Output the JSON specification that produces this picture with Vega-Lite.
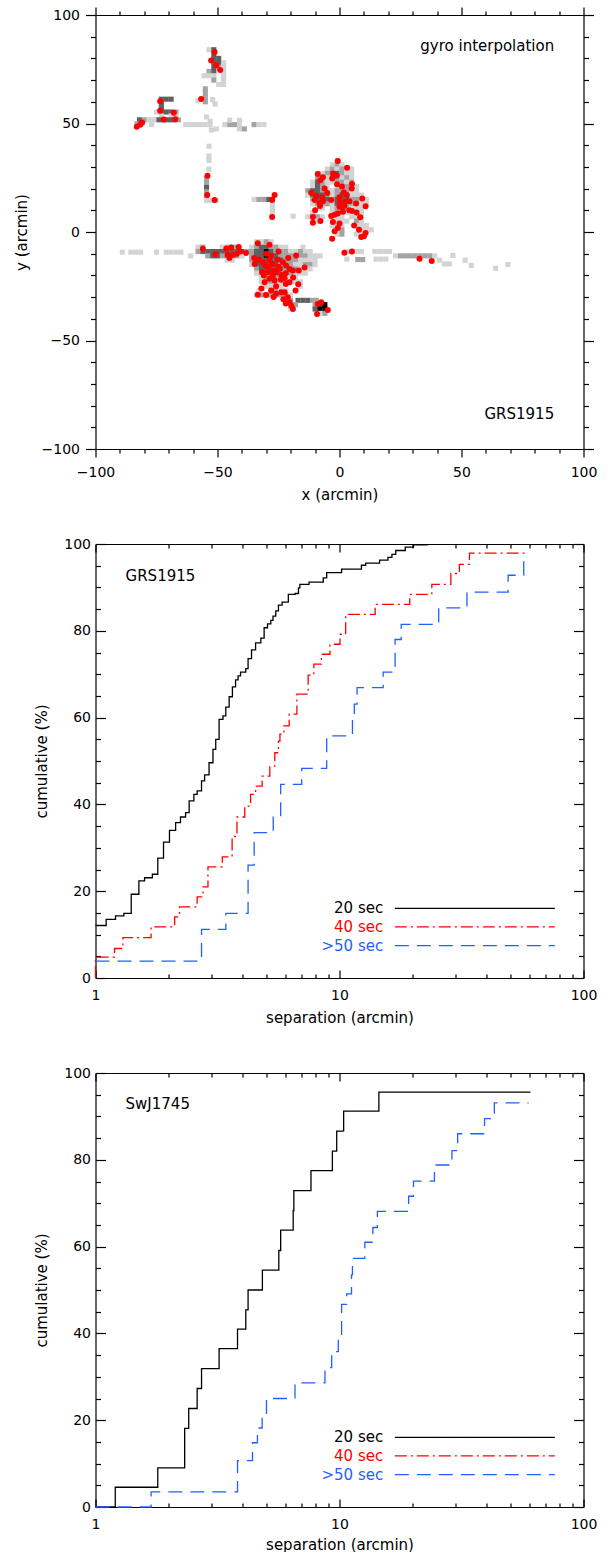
{
  "$schema": "https://vega.github.io/schema/vega-lite/v6.json",
  "background": "white",
  "padding": {"left": 14.5, "top": 6, "right": 5, "bottom": 0},
  "bounds": "flush",
  "spacing": 95,
  "resolve": {"scale": {"color": "independent", "strokeDash": "independent"}},
  "datasets": {
    "cells": [
      {"x":-53.5,"y":84,"l":1},{"x":-51.5,"y":84,"l":3},{"x":-51.5,"y":82,"l":3},{"x":-51.5,"y":80,"l":3},{"x":-49.5,"y":80,"l":3},{"x":-51.5,"y":78,"l":3},{"x":-49.5,"y":78,"l":3},{"x":-47.5,"y":78,"l":1},{"x":-51.5,"y":76,"l":3},{"x":-49.5,"y":76,"l":2},{"x":-47.5,"y":76,"l":1},{"x":-53.5,"y":74,"l":2},{"x":-51.5,"y":74,"l":3},{"x":-47.5,"y":74,"l":1},{"x":-55.5,"y":72,"l":1},{"x":-53.5,"y":72,"l":1},{"x":-51.5,"y":72,"l":1},{"x":-47.5,"y":72,"l":1},{"x":-51.5,"y":70,"l":2},{"x":-47.5,"y":70,"l":1},{"x":-47.5,"y":68,"l":1},{"x":-49.5,"y":68,"l":1},
      {"x":-55,"y":66,"l":2},{"x":-55,"y":64,"l":2},{"x":-55,"y":62,"l":2},{"x":-55,"y":60,"l":2},{"x":-58,"y":60.5,"l":1},{"x":-52,"y":61,"l":1},{"x":-51,"y":59,"l":1},{"x":-54.5,"y":53,"l":1},{"x":-53,"y":51,"l":1},
      {"x":-63,"y":49.5,"l":1},{"x":-61,"y":49.5,"l":1},{"x":-59,"y":49.5,"l":1},{"x":-57,"y":49.5,"l":1},{"x":-55,"y":49.5,"l":1},{"x":-53,"y":49.5,"l":1},{"x":-50.5,"y":47.5,"l":1},
      {"x":-47,"y":49.5,"l":1},{"x":-45,"y":49.5,"l":2},{"x":-43,"y":49.5,"l":2},{"x":-41,"y":49.5,"l":1},{"x":-45,"y":51.5,"l":1},{"x":-41,"y":51.5,"l":1},{"x":-41,"y":47.5,"l":1},{"x":-39,"y":47.5,"l":2},{"x":-35,"y":49.5,"l":2},{"x":-33,"y":49.5,"l":1},{"x":-31,"y":49.5,"l":1},
      {"x":-52.5,"y":47,"l":1},{"x":-53.5,"y":39.5,"l":1},{"x":-53.5,"y":35,"l":1},{"x":-53.5,"y":33,"l":1},{"x":-53.5,"y":29,"l":1},
      {"x":-54.5,"y":24.5,"l":2},{"x":-54.5,"y":22.5,"l":2},{"x":-54.5,"y":20.5,"l":3},{"x":-54.5,"y":18.5,"l":2},{"x":-54.5,"y":16.5,"l":2},{"x":-54.5,"y":14.5,"l":1},{"x":-52.5,"y":14.5,"l":1},{"x":-50.5,"y":14.5,"l":1},
      {"x":-73,"y":61.2,"l":3},{"x":-71,"y":61.2,"l":3},{"x":-69,"y":61.2,"l":3},{"x":-73,"y":59,"l":3},{"x":-73,"y":57,"l":3},{"x":-75,"y":55.3,"l":1},{"x":-73,"y":55.3,"l":3},{"x":-71,"y":55.3,"l":3},{"x":-69,"y":55.3,"l":3},{"x":-67,"y":55.3,"l":2},{"x":-73,"y":53.5,"l":1},{"x":-69,"y":53.5,"l":1},{"x":-67,"y":53.5,"l":1},{"x":-82,"y":51.7,"l":3},{"x":-80,"y":51.7,"l":2},{"x":-78,"y":51.7,"l":1},{"x":-76,"y":51.7,"l":1},{"x":-74,"y":51.7,"l":3},{"x":-72,"y":51.7,"l":3},{"x":-70,"y":51.7,"l":3},{"x":-68,"y":51.7,"l":3},{"x":-66,"y":51.7,"l":2},{"x":-83,"y":49.8,"l":2},{"x":-81,"y":49.8,"l":1},{"x":-77,"y":49.5,"l":1},
      {"x":-89,"y":-9.3,"l":1},{"x":-85.5,"y":-9.3,"l":1},{"x":-83.5,"y":-9.3,"l":1},{"x":-81.5,"y":-9.3,"l":1},{"x":-75,"y":-9.3,"l":1},{"x":-71,"y":-9.3,"l":1},{"x":-69,"y":-9.3,"l":1},{"x":-67,"y":-9.3,"l":1},{"x":-65,"y":-9.3,"l":1},{"x":-61,"y":-11,"l":1},
      {"x":-35,"y":15,"l":1},{"x":-33,"y":15,"l":2},{"x":-31,"y":15,"l":2},{"x":-29,"y":15,"l":3},{"x":-27.5,"y":15,"l":3},{"x":-27.5,"y":13,"l":1},{"x":-27.5,"y":11,"l":1},{"x":-27.5,"y":9,"l":1},{"x":-27.5,"y":7,"l":1},{"x":-19,"y":7.3,"l":1},
      {"x":-34,"y":-4.5,"l":1},{"x":-32,"y":-4.5,"l":1},{"x":-30,"y":-4.5,"l":2},{"x":-28,"y":-4.5,"l":1},
      {"x":-58,"y":-7,"l":1},{"x":-56,"y":-7,"l":2},{"x":-48,"y":-7,"l":1},{"x":-46,"y":-7,"l":2},{"x":-44,"y":-7,"l":2},{"x":-42,"y":-7,"l":2},{"x":-36,"y":-7,"l":1},{"x":-34,"y":-7,"l":2},{"x":-32,"y":-7,"l":3},{"x":-30,"y":-7,"l":3},{"x":-28,"y":-7,"l":2},{"x":-26,"y":-7,"l":2},{"x":-24,"y":-7,"l":1},{"x":-22,"y":-7,"l":1},{"x":-15,"y":-7,"l":1},
      {"x":-58,"y":-9,"l":2},{"x":-56,"y":-9,"l":3},{"x":-54,"y":-9,"l":3},{"x":-52,"y":-9,"l":3},{"x":-50,"y":-9,"l":3},{"x":-48,"y":-9,"l":3},{"x":-46,"y":-9,"l":3},{"x":-44,"y":-9,"l":3},{"x":-42,"y":-9,"l":3},{"x":-40,"y":-9,"l":3},{"x":-38,"y":-9,"l":2},{"x":-36,"y":-9,"l":2},{"x":-34,"y":-9,"l":3},{"x":-32,"y":-9,"l":3},{"x":-30,"y":-9,"l":4},{"x":-28,"y":-9,"l":3},{"x":-26,"y":-9,"l":2},{"x":-24,"y":-9,"l":2},{"x":-22,"y":-9,"l":2},{"x":-20,"y":-9,"l":1},{"x":-18,"y":-9,"l":1},{"x":-16,"y":-9,"l":2},{"x":-14,"y":-9,"l":1},{"x":-12,"y":-9,"l":1},
      {"x":-54,"y":-11,"l":2},{"x":-52,"y":-11,"l":3},{"x":-50,"y":-11,"l":3},{"x":-48,"y":-11,"l":2},{"x":-46,"y":-11,"l":3},{"x":-44,"y":-11,"l":3},{"x":-42,"y":-11,"l":2},{"x":-40,"y":-11,"l":1},{"x":-36,"y":-11,"l":2},{"x":-34,"y":-11,"l":3},{"x":-32,"y":-11,"l":3},{"x":-30,"y":-11,"l":4},{"x":-28,"y":-11,"l":3},{"x":-26,"y":-11,"l":3},{"x":-24,"y":-11,"l":2},{"x":-22,"y":-11,"l":2},{"x":-20,"y":-11,"l":2},{"x":-18,"y":-11,"l":1},{"x":-16,"y":-11,"l":2},{"x":-14,"y":-11,"l":2},{"x":-12,"y":-11,"l":1},{"x":-10,"y":-11,"l":1},{"x":-8,"y":-11,"l":1},
      {"x":-46,"y":-13,"l":1},{"x":-44,"y":-13,"l":1},{"x":-36,"y":-13,"l":2},{"x":-34,"y":-13,"l":3},{"x":-32,"y":-13,"l":3},{"x":-30,"y":-13,"l":3},{"x":-28,"y":-13,"l":3},{"x":-26,"y":-13,"l":3},{"x":-24,"y":-13,"l":3},{"x":-22,"y":-13,"l":2},{"x":-20,"y":-13,"l":2},{"x":-18,"y":-13,"l":2},{"x":-16,"y":-13,"l":1},{"x":-14,"y":-13,"l":1},{"x":-12,"y":-13,"l":1},{"x":-10,"y":-13,"l":1},
      {"x":-36,"y":-15,"l":1},{"x":-34,"y":-15,"l":3},{"x":-32,"y":-15,"l":3},{"x":-30,"y":-15,"l":3},{"x":-28,"y":-15,"l":3},{"x":-26,"y":-15,"l":3},{"x":-24,"y":-15,"l":2},{"x":-22,"y":-15,"l":2},{"x":-20,"y":-15,"l":2},{"x":-18,"y":-15,"l":1},{"x":-16,"y":-15,"l":1},{"x":-14,"y":-15,"l":2},{"x":-12,"y":-15,"l":2},{"x":-10,"y":-15,"l":1},
      {"x":-34,"y":-17,"l":2},{"x":-32,"y":-17,"l":3},{"x":-30,"y":-17,"l":3},{"x":-28,"y":-17,"l":3},{"x":-26,"y":-17,"l":3},{"x":-24,"y":-17,"l":3},{"x":-22,"y":-17,"l":2},{"x":-20,"y":-17,"l":2},{"x":-18,"y":-17,"l":2},{"x":-16,"y":-17,"l":1},{"x":-14,"y":-17,"l":1},{"x":-12,"y":-17,"l":1},
      {"x":-34,"y":-19,"l":1},{"x":-32,"y":-19,"l":2},{"x":-30,"y":-19,"l":3},{"x":-28,"y":-19,"l":3},{"x":-26,"y":-19,"l":3},{"x":-24,"y":-19,"l":2},{"x":-22,"y":-19,"l":2},{"x":-20,"y":-19,"l":2},{"x":-18,"y":-19,"l":1},{"x":-16,"y":-19,"l":1},{"x":-14,"y":-19,"l":1},
      {"x":-32,"y":-21,"l":1},{"x":-30,"y":-21,"l":2},{"x":-28,"y":-21,"l":2},{"x":-26,"y":-21,"l":2},{"x":-24,"y":-21,"l":2},{"x":-22,"y":-21,"l":1},{"x":-20,"y":-21,"l":1},{"x":-18,"y":-21,"l":1},
      {"x":-32,"y":-23,"l":1},{"x":-30,"y":-23,"l":2},{"x":-28,"y":-23,"l":2},{"x":-26,"y":-23,"l":1},{"x":-24,"y":-23,"l":1},{"x":-22,"y":-23,"l":1},{"x":-20,"y":-23,"l":1},{"x":-18,"y":-23,"l":1},{"x":-16,"y":-23,"l":1},
      {"x":-30,"y":-25,"l":1},{"x":-28,"y":-25,"l":1},{"x":-26,"y":-25,"l":1},{"x":-24,"y":-25,"l":1},{"x":-16,"y":-25,"l":1},
      {"x":-33,"y":-27,"l":1},{"x":-28,"y":-27,"l":2},{"x":-26,"y":-27,"l":2},{"x":-24,"y":-27,"l":1},{"x":-22,"y":-27,"l":1},
      {"x":-34,"y":-29,"l":1},{"x":-32,"y":-29,"l":2},{"x":-30,"y":-29,"l":2},{"x":-28,"y":-29,"l":2},{"x":-26,"y":-29,"l":2},{"x":-24,"y":-29,"l":2},{"x":-22,"y":-29,"l":2},{"x":-20,"y":-29,"l":1},
      {"x":-22,"y":-31.5,"l":2},{"x":-20,"y":-31.5,"l":2},{"x":-17,"y":-31.5,"l":3},{"x":-15,"y":-31.5,"l":3},{"x":-13,"y":-31.5,"l":3},{"x":-11,"y":-31.5,"l":2},{"x":-9.5,"y":-31.5,"l":2},
      {"x":-20,"y":-33.5,"l":2},{"x":-18,"y":-33.5,"l":2},{"x":-10,"y":-33.5,"l":2},{"x":-8,"y":-33.5,"l":3},{"x":-6,"y":-33.5,"l":4},
      {"x":-20,"y":-35.5,"l":1},{"x":-10,"y":-35.5,"l":3},{"x":-8,"y":-35.5,"l":4},{"x":-6,"y":-35.5,"l":4},
      {"x":-8,"y":-37.5,"l":1},{"x":-6,"y":-37.5,"l":2},
      {"x":-1,"y":33,"l":1},
      {"x":-3,"y":31,"l":1},{"x":-1,"y":31,"l":2},{"x":1,"y":31,"l":1},
      {"x":-5,"y":29,"l":1},{"x":-3,"y":29,"l":2},{"x":-1,"y":29,"l":1},{"x":1,"y":29,"l":2},{"x":3,"y":29,"l":1},{"x":5,"y":29,"l":1},
      {"x":-9,"y":27,"l":1},{"x":-7,"y":27,"l":1},{"x":-5,"y":27,"l":2},{"x":-3,"y":27,"l":2},{"x":-1,"y":27,"l":3},{"x":1,"y":27,"l":2},{"x":3,"y":27,"l":1},{"x":5,"y":27,"l":1},
      {"x":-9,"y":25,"l":2},{"x":-7,"y":25,"l":2},{"x":-5,"y":25,"l":1},{"x":-3,"y":25,"l":2},{"x":-1,"y":25,"l":2},{"x":1,"y":25,"l":1},{"x":3,"y":25,"l":2},{"x":5,"y":25,"l":1},
      {"x":-11,"y":23,"l":1},{"x":-9,"y":23,"l":3},{"x":-7,"y":23,"l":2},{"x":-5,"y":23,"l":1},{"x":-3,"y":23,"l":1},{"x":-1,"y":23,"l":2},{"x":1,"y":23,"l":2},{"x":3,"y":23,"l":1},{"x":5,"y":23,"l":2},
      {"x":-11,"y":21,"l":1},{"x":-9,"y":21,"l":3},{"x":-7,"y":21,"l":2},{"x":-5,"y":21,"l":1},{"x":-1,"y":21,"l":1},{"x":1,"y":21,"l":1},{"x":3,"y":21,"l":2},{"x":5,"y":21,"l":1},{"x":7,"y":21,"l":1},
      {"x":-13,"y":19,"l":2},{"x":-11,"y":19,"l":3},{"x":-9,"y":19,"l":3},{"x":-7,"y":19,"l":2},{"x":-5,"y":19,"l":1},{"x":-3,"y":19,"l":1},{"x":-1,"y":19,"l":2},{"x":1,"y":19,"l":2},{"x":3,"y":19,"l":2},{"x":5,"y":19,"l":1},{"x":7,"y":19,"l":1},
      {"x":-13,"y":17,"l":1},{"x":-11,"y":17,"l":3},{"x":-9,"y":17,"l":3},{"x":-7,"y":17,"l":3},{"x":-5,"y":17,"l":2},{"x":-3,"y":17,"l":1},{"x":-1,"y":17,"l":2},{"x":1,"y":17,"l":3},{"x":3,"y":17,"l":2},{"x":5,"y":17,"l":1},{"x":7,"y":17,"l":1},{"x":9,"y":17,"l":1},
      {"x":-11,"y":15,"l":2},{"x":-9,"y":15,"l":3},{"x":-7,"y":15,"l":3},{"x":-5,"y":15,"l":3},{"x":-3,"y":15,"l":2},{"x":-1,"y":15,"l":3},{"x":1,"y":15,"l":3},{"x":3,"y":15,"l":3},{"x":5,"y":15,"l":2},{"x":7,"y":15,"l":2},{"x":9,"y":15,"l":1},{"x":11,"y":15,"l":1},
      {"x":-11,"y":13,"l":1},{"x":-9,"y":13,"l":2},{"x":-7,"y":13,"l":2},{"x":-5,"y":13,"l":2},{"x":-3,"y":13,"l":1},{"x":-1,"y":13,"l":3},{"x":1,"y":13,"l":3},{"x":3,"y":13,"l":2},{"x":5,"y":13,"l":2},{"x":7,"y":13,"l":2},{"x":9,"y":13,"l":1},{"x":11,"y":13,"l":1},
      {"x":-9,"y":11,"l":1},{"x":-7,"y":11,"l":1},{"x":-3,"y":11,"l":1},{"x":-1,"y":11,"l":2},{"x":1,"y":11,"l":3},{"x":3,"y":11,"l":2},{"x":5,"y":11,"l":1},{"x":7,"y":11,"l":1},{"x":9,"y":11,"l":1},
      {"x":-11,"y":9,"l":1},{"x":-3,"y":9,"l":1},{"x":-1,"y":9,"l":2},{"x":1,"y":9,"l":2},{"x":3,"y":9,"l":1},{"x":7,"y":9,"l":1},{"x":9,"y":9,"l":1},
      {"x":-13,"y":7,"l":1},{"x":-11,"y":7,"l":2},{"x":-9,"y":7,"l":2},{"x":-7,"y":7,"l":1},{"x":-3,"y":7,"l":1},{"x":-1,"y":7,"l":1},{"x":1,"y":7,"l":1},{"x":5,"y":7,"l":1},{"x":7,"y":7,"l":1},{"x":9,"y":7,"l":1},
      {"x":-11,"y":5,"l":1},{"x":-9,"y":5,"l":1},{"x":-1,"y":5,"l":1},{"x":1,"y":5,"l":1},{"x":3,"y":5,"l":1},{"x":7,"y":5,"l":2},{"x":9,"y":5,"l":1},
      {"x":-3,"y":3,"l":1},{"x":-1,"y":3,"l":1},{"x":1,"y":3,"l":1},{"x":7,"y":3,"l":1},{"x":9,"y":3,"l":1},{"x":11,"y":3,"l":1},
      {"x":-1,"y":1,"l":1},{"x":1,"y":1,"l":2},{"x":9,"y":1,"l":1},{"x":11,"y":1,"l":1},{"x":13,"y":1,"l":1},
      {"x":-1,"y":-1,"l":1},{"x":1,"y":-1,"l":2},{"x":7,"y":-1,"l":1},{"x":9,"y":-1,"l":1},
      {"x":-3,"y":-3,"l":1},
      {"x":3,"y":-9,"l":1},{"x":5,"y":-9,"l":1},{"x":7,"y":-9,"l":1},{"x":9,"y":-9,"l":1},{"x":3,"y":-12.5,"l":1},{"x":7.5,"y":-12.7,"l":2},{"x":9.5,"y":-12.7,"l":2},{"x":14.5,"y":-9,"l":1},{"x":16.5,"y":-9,"l":1},{"x":18.5,"y":-9,"l":1},{"x":20.5,"y":-9,"l":1},{"x":15,"y":-12.5,"l":1},{"x":17,"y":-12.5,"l":1},{"x":19,"y":-12.5,"l":1},{"x":23,"y":-11,"l":1},{"x":25,"y":-11,"l":2},{"x":27,"y":-11,"l":2},{"x":29,"y":-11,"l":2},{"x":31,"y":-11,"l":2},{"x":33,"y":-11,"l":2},{"x":35,"y":-11,"l":2},{"x":37,"y":-11,"l":2},{"x":39,"y":-11,"l":1},{"x":41,"y":-13,"l":1},{"x":43,"y":-14.7,"l":1},{"x":45,"y":-14.7,"l":1},{"x":46.5,"y":-10.8,"l":1},{"x":51.5,"y":-13,"l":1},{"x":54,"y":-15.4,"l":1},{"x":64,"y":-16.7,"l":1},{"x":69,"y":-15,"l":1}
    ],
    "red": [
      {"x":-51.2,"y":83},{"x":-52.6,"y":79},{"x":-50.5,"y":76.8},{"x":-48.9,"y":74.7},
      {"x":-73.5,"y":60.2},{"x":-73.5,"y":55.9},{"x":-67.9,"y":55},{"x":-72,"y":51.9},{"x":-67.3,"y":52},{"x":-80.9,"y":50.5},{"x":-81.7,"y":49.4},{"x":-83.1,"y":48.5},
      {"x":-56.7,"y":61.3},{"x":-54.1,"y":25.9},{"x":-54.2,"y":17},{"x":-51.2,"y":14.7},{"x":-26.6,"y":17},{"x":-27.6,"y":14.7},{"x":-27.6,"y":6.9},
      {"x":-56,"y":-7.7},{"x":-50.8,"y":-10.2},{"x":-46.4,"y":-7.7},{"x":-44.4,"y":-7.1},{"x":-41.3,"y":-6.9},{"x":-40.7,"y":-9},{"x":-38.3,"y":-9.7},{"x":-45.8,"y":-10.5},{"x":-45.1,"y":-12},{"x":-43.4,"y":-10.5},{"x":-42.1,"y":-10},{"x":-33.5,"y":-5.2},{"x":-28.7,"y":-5.9},
      {"x":-34.8,"y":-14.7},{"x":-33.1,"y":-12.7},{"x":-31.4,"y":-13.9},{"x":-30.3,"y":-15.7},{"x":-28.7,"y":-13.1},{"x":-27.3,"y":-14.7},{"x":-25.3,"y":-12.7},{"x":-23.2,"y":-13.9},{"x":-24.6,"y":-17},{"x":-21.9,"y":-15.4},{"x":-20.5,"y":-17},{"x":-19.1,"y":-17.7},{"x":-17.8,"y":-10.8},{"x":-16.7,"y":-17.7},{"x":-14.3,"y":-16.4},
      {"x":-31.7,"y":-18.5},{"x":-29.4,"y":-18.5},{"x":-28.7,"y":-21.6},{"x":-27.3,"y":-20.1},{"x":-26,"y":-18.5},{"x":-23.9,"y":-19.8},{"x":-22.5,"y":-21.3},{"x":-20.5,"y":-23.1},{"x":-16.9,"y":-24.1},{"x":-26.6,"y":-22.4},{"x":-30.7,"y":-23.1},
      {"x":-33.5,"y":-28.9},{"x":-30.1,"y":-29},{"x":-28,"y":-27},{"x":-26,"y":-28.5},{"x":-23.9,"y":-27.8},{"x":-22.5,"y":-27.8},{"x":-21.2,"y":-30.1},{"x":-20.5,"y":-32.4},{"x":-19.8,"y":-34},{"x":-19.1,"y":-35.5},{"x":-8.9,"y":-33.2},{"x":-7.5,"y":-32.4},{"x":-9.2,"y":-37.8},{"x":-4.8,"y":-36},
      {"x":-22,"y":-19},{"x":-25,"y":-16},{"x":-27,"y":-18},{"x":-29,"y":-16},{"x":-31,"y":-20},{"x":-24,"y":-22},{"x":-22,"y":-24},{"x":-26,"y":-25},{"x":-28,"y":-11},{"x":-30,"y":-10},{"x":-25,"y":-9},{"x":-21,"y":-12},{"x":-19,"y":-21},{"x":-18,"y":-27},{"x":-32,"y":-26},{"x":-35,"y":-12},{"x":-23,"y":-31},{"x":-22,"y":-33},{"x":-27,"y":-30},
      {"x":-0.7,"y":32.7},{"x":3.1,"y":29.6},{"x":-8.9,"y":26.7},{"x":-6.8,"y":25.2},{"x":-7.9,"y":23.9},{"x":-2.7,"y":27},{"x":-1.1,"y":25.9},{"x":-3,"y":24.7},{"x":5.1,"y":22.1},{"x":-6.1,"y":20.1},{"x":-11.6,"y":18.1},{"x":-9.6,"y":16.7},{"x":-10.2,"y":14.7},{"x":-8.2,"y":13.1},{"x":-6.8,"y":14.2},{"x":-3.4,"y":14.7},{"x":1.8,"y":18.2},{"x":0.3,"y":13.9},{"x":2.7,"y":14.2},{"x":4.1,"y":14.2},{"x":6.8,"y":13.1},{"x":9.3,"y":15.4},{"x":10.7,"y":11.9},{"x":0,"y":11.6},{"x":1.4,"y":9.3},{"x":-0.7,"y":8.5},{"x":-3.4,"y":7.4},{"x":5.1,"y":9.7},{"x":-10.9,"y":6.9},{"x":-10.9,"y":4.3},{"x":-7.8,"y":5.1},{"x":-2.7,"y":4.6},{"x":0,"y":3.9},{"x":-0.7,"y":1.9},{"x":-2,"y":0.3},{"x":-3,"y":-3.1},{"x":8.5,"y":6.8},{"x":10.7,"y":-0.5},{"x":8.9,"y":-2.3},
      {"x":-5,"y":18},{"x":-7,"y":16},{"x":-8,"y":12},{"x":-10,"y":10},{"x":3,"y":17},{"x":5,"y":20},{"x":1,"y":21},{"x":-1,"y":22},{"x":0,"y":16},{"x":2,"y":12},{"x":4,"y":10},{"x":-2,"y":8},{"x":6,"y":3},{"x":8,"y":1},{"x":10,"y":-2},{"x":7,"y":9},
      {"x":32.8,"y":-12.3},{"x":37.8,"y":-13.4},{"x":2,"y":-9.6},{"x":5.1,"y":-9}
    ],
    "grs": [
      {"series":"20 sec","sep":1,"cum":12.1},{"series":"20 sec","sep":1.106,"cum":13.5},{"series":"20 sec","sep":1.208,"cum":14.3},{"series":"20 sec","sep":1.307,"cum":14.9},{"series":"20 sec","sep":1.401,"cum":19.3},{"series":"20 sec","sep":1.506,"cum":22.4},{"series":"20 sec","sep":1.589,"cum":23.1},{"series":"20 sec","sep":1.71,"cum":23.9},{"series":"20 sec","sep":1.8,"cum":27.6},{"series":"20 sec","sep":1.9,"cum":31.3},{"series":"20 sec","sep":2.01,"cum":34.0},{"series":"20 sec","sep":2.13,"cum":35.8},{"series":"20 sec","sep":2.23,"cum":37.1},{"series":"20 sec","sep":2.34,"cum":38.1},{"series":"20 sec","sep":2.42,"cum":40.8},{"series":"20 sec","sep":2.53,"cum":42.3},{"series":"20 sec","sep":2.61,"cum":43.1},{"series":"20 sec","sep":2.72,"cum":45.4},{"series":"20 sec","sep":2.8,"cum":46.8},{"series":"20 sec","sep":2.92,"cum":49.6},{"series":"20 sec","sep":3.03,"cum":52.7},{"series":"20 sec","sep":3.11,"cum":55.0},{"series":"20 sec","sep":3.21,"cum":59.6},{"series":"20 sec","sep":3.33,"cum":60.4},{"series":"20 sec","sep":3.42,"cum":62.4},{"series":"20 sec","sep":3.53,"cum":64.8},{"series":"20 sec","sep":3.64,"cum":67.1},{"series":"20 sec","sep":3.75,"cum":68.7},{"series":"20 sec","sep":3.84,"cum":69.6},{"series":"20 sec","sep":3.93,"cum":70.5},{"series":"20 sec","sep":4.13,"cum":71.3},{"series":"20 sec","sep":4.22,"cum":73.6},{"series":"20 sec","sep":4.36,"cum":75.6},{"series":"20 sec","sep":4.53,"cum":77.2},{"series":"20 sec","sep":4.76,"cum":78.3},{"series":"20 sec","sep":4.91,"cum":80.7},{"series":"20 sec","sep":5.07,"cum":81.6},{"series":"20 sec","sep":5.23,"cum":82.4},{"series":"20 sec","sep":5.34,"cum":83.4},{"series":"20 sec","sep":5.48,"cum":84.6},{"series":"20 sec","sep":5.62,"cum":85.9},{"series":"20 sec","sep":5.82,"cum":86.6},{"series":"20 sec","sep":6.17,"cum":88.4},{"series":"20 sec","sep":6.58,"cum":88.6},{"series":"20 sec","sep":6.79,"cum":89.9},{"series":"20 sec","sep":6.88,"cum":90.7},{"series":"20 sec","sep":7.5,"cum":91.2},{"series":"20 sec","sep":8.58,"cum":92.2},{"series":"20 sec","sep":8.86,"cum":93.4},{"series":"20 sec","sep":10.2,"cum":94.2},{"series":"20 sec","sep":12.3,"cum":95.1},{"series":"20 sec","sep":12.8,"cum":95.6},{"series":"20 sec","sep":14.6,"cum":96.3},{"series":"20 sec","sep":15.8,"cum":96.9},{"series":"20 sec","sep":16.4,"cum":97.6},{"series":"20 sec","sep":17.0,"cum":98.5},{"series":"20 sec","sep":18.6,"cum":99.3},{"series":"20 sec","sep":20.1,"cum":99.8},{"series":"20 sec","sep":23,"cum":99.8},
      {"series":"40 sec","sep":1,"cum":0},{"series":"40 sec","sep":1,"cum":4.8},{"series":"40 sec","sep":1.197,"cum":6.8},{"series":"40 sec","sep":1.295,"cum":9.3},{"series":"40 sec","sep":1.69,"cum":11.8},{"series":"40 sec","sep":2.11,"cum":14.1},{"series":"40 sec","sep":2.21,"cum":16.4},{"series":"40 sec","sep":2.61,"cum":18.7},{"series":"40 sec","sep":2.76,"cum":21.0},{"series":"40 sec","sep":2.89,"cum":25.6},{"series":"40 sec","sep":3.31,"cum":27.9},{"series":"40 sec","sep":3.63,"cum":32.6},{"series":"40 sec","sep":3.8,"cum":37.1},{"series":"40 sec","sep":4.09,"cum":39.6},{"series":"40 sec","sep":4.32,"cum":42.3},{"series":"40 sec","sep":4.53,"cum":44.2},{"series":"40 sec","sep":4.82,"cum":46.5},{"series":"40 sec","sep":5.18,"cum":48.8},{"series":"40 sec","sep":5.43,"cum":51.9},{"series":"40 sec","sep":5.62,"cum":54.6},{"series":"40 sec","sep":5.7,"cum":56.2},{"series":"40 sec","sep":5.92,"cum":58.1},{"series":"40 sec","sep":6.22,"cum":60.8},{"series":"40 sec","sep":6.69,"cum":65.4},{"series":"40 sec","sep":7.44,"cum":69.8},{"series":"40 sec","sep":7.85,"cum":72.3},{"series":"40 sec","sep":8.43,"cum":74.6},{"series":"40 sec","sep":9.14,"cum":76.9},{"series":"40 sec","sep":10.05,"cum":79.2},{"series":"40 sec","sep":10.6,"cum":83.8},{"series":"40 sec","sep":14.0,"cum":86.1},{"series":"40 sec","sep":19.4,"cum":88.4},{"series":"40 sec","sep":23.9,"cum":90.7},{"series":"40 sec","sep":28.6,"cum":93.2},{"series":"40 sec","sep":31.0,"cum":95.3},{"series":"40 sec","sep":34.1,"cum":97.9},{"series":"40 sec","sep":58.7,"cum":97.9},
      {"series":">50 sec","sep":1,"cum":3.9},{"series":">50 sec","sep":2.72,"cum":11.2},{"series":">50 sec","sep":3.42,"cum":14.9},{"series":">50 sec","sep":4.22,"cum":26.0},{"series":">50 sec","sep":4.47,"cum":33.5},{"series":">50 sec","sep":5.35,"cum":37.1},{"series":">50 sec","sep":5.74,"cum":44.6},{"series":">50 sec","sep":7.0,"cum":48.3},{"series":">50 sec","sep":8.86,"cum":55.8},{"series":">50 sec","sep":11.3,"cum":59.6},{"series":">50 sec","sep":11.5,"cum":63.1},{"series":">50 sec","sep":11.8,"cum":66.9},{"series":">50 sec","sep":15.1,"cum":70.5},{"series":">50 sec","sep":16.9,"cum":78.0},{"series":">50 sec","sep":17.9,"cum":81.5},{"series":">50 sec","sep":25.5,"cum":85.3},{"series":">50 sec","sep":33.3,"cum":88.9},{"series":">50 sec","sep":49.1,"cum":92.8},{"series":">50 sec","sep":56.9,"cum":96.5}
    ],
    "swj": [
      {"series":"20 sec","sep":1,"cum":0},{"series":"20 sec","sep":1.205,"cum":4.55},{"series":"20 sec","sep":1.8,"cum":9.0},{"series":"20 sec","sep":2.32,"cum":18.1},{"series":"20 sec","sep":2.41,"cum":22.7},{"series":"20 sec","sep":2.61,"cum":27.3},{"series":"20 sec","sep":2.72,"cum":31.9},{"series":"20 sec","sep":3.21,"cum":36.5},{"series":"20 sec","sep":3.82,"cum":41.0},{"series":"20 sec","sep":4.13,"cum":45.4},{"series":"20 sec","sep":4.22,"cum":50.0},{"series":"20 sec","sep":4.83,"cum":54.6},{"series":"20 sec","sep":5.64,"cum":59.1},{"series":"20 sec","sep":5.74,"cum":63.8},{"series":"20 sec","sep":6.46,"cum":68.3},{"series":"20 sec","sep":6.5,"cum":72.9},{"series":"20 sec","sep":7.64,"cum":77.5},{"series":"20 sec","sep":9.35,"cum":82.0},{"series":"20 sec","sep":9.74,"cum":86.6},{"series":"20 sec","sep":10.4,"cum":91.2},{"series":"20 sec","sep":14.5,"cum":95.6},{"series":"20 sec","sep":60.6,"cum":95.6},
      {"series":">50 sec","sep":1,"cum":0},{"series":">50 sec","sep":1.69,"cum":3.5},{"series":">50 sec","sep":3.82,"cum":10.7},{"series":">50 sec","sep":4.4,"cum":14.8},{"series":">50 sec","sep":4.61,"cum":18.2},{"series":">50 sec","sep":4.82,"cum":21.3},{"series":">50 sec","sep":5.02,"cum":25.0},{"series":">50 sec","sep":6.57,"cum":28.6},{"series":">50 sec","sep":8.72,"cum":32.1},{"series":">50 sec","sep":9.29,"cum":35.8},{"series":">50 sec","sep":9.89,"cum":39.4},{"series":">50 sec","sep":10.2,"cum":46.7},{"series":">50 sec","sep":10.7,"cum":49.1},{"series":">50 sec","sep":11.2,"cum":53.5},{"series":">50 sec","sep":11.3,"cum":57.3},{"series":">50 sec","sep":12.7,"cum":61.0},{"series":">50 sec","sep":13.7,"cum":64.4},{"series":">50 sec","sep":14.3,"cum":68.1},{"series":">50 sec","sep":19.2,"cum":71.6},{"series":">50 sec","sep":20.1,"cum":75.1},{"series":">50 sec","sep":24.5,"cum":78.8},{"series":">50 sec","sep":28.9,"cum":82.1},{"series":">50 sec","sep":30.5,"cum":86.0},{"series":">50 sec","sep":39.3,"cum":89.5},{"series":">50 sec","sep":43.1,"cum":93.1},{"series":">50 sec","sep":59.6,"cum":93.1}
    ]
  },
  "vconcat": [
    {
      "width": 488,
      "height": 434,
      "layer": [
        {
          "data": {"name": "cells"},
          "mark": {"type": "square", "size": 26, "opacity": 1},
          "encoding": {
            "x": {"field": "x", "type": "quantitative", "scale": {"domain": [-100, 100], "nice": false, "zero": false},
              "axis": {"orient": "bottom", "values": [-100, -50, 0, 50, 100], "tickSize": 8, "labelPadding": 8, "labelFlush": false, "labelOverlap": false, "title": "x (arcmin)", "titleY": 45, "titleBaseline": "middle"}},
            "y": {"field": "y", "type": "quantitative", "scale": {"domain": [-100, 100], "nice": false, "zero": false},
              "axis": {"orient": "left", "values": [-100, -50, 0, 50, 100], "tickSize": 10, "labelPadding": 6, "labelFlush": false, "labelOverlap": false, "title": "y (arcmin)", "titleX": -74, "titleBaseline": "middle"}},
            "color": {"field": "l", "type": "ordinal", "scale": {"domain": [1, 2, 3, 4], "range": ["#d3d3d3", "#a3a3a3", "#606060", "#000000"]}, "legend": null}
          }
        },
        {
          "data": {"name": "red"},
          "mark": {"type": "circle", "size": 36, "color": "#ff0000", "opacity": 1},
          "encoding": {
            "x": {"field": "x", "type": "quantitative", "scale": {"domain": [-100, 100], "nice": false, "zero": false},
              "axis": {"orient": "bottom", "values": [-90, -80, -70, -60, -40, -30, -20, -10, 10, 20, 30, 40, 60, 70, 80, 90], "tickSize": 4, "labels": false, "domain": false, "title": null}},
            "y": {"field": "y", "type": "quantitative", "scale": {"domain": [-100, 100], "nice": false, "zero": false},
              "axis": {"orient": "left", "values": [-90, -80, -70, -60, -40, -30, -20, -10, 10, 20, 30, 40, 60, 70, 80, 90], "tickSize": 5, "labels": false, "domain": false, "title": null}}
          }
        },
        {
          "data": {"values": [{}]},
          "mark": {"type": "text", "align": "right", "baseline": "middle", "fontSize": 15, "font": "DejaVu Sans", "color": "#000000"},
          "encoding": {
            "x": {"datum": 88, "type": "quantitative", "scale": {"domain": [-100, 100], "nice": false, "zero": false},
              "axis": {"orient": "top", "values": [-100, -50, 0, 50, 100], "tickSize": 8, "labels": false, "title": null}},
            "y": {"datum": 85.6, "type": "quantitative", "scale": {"domain": [-100, 100], "nice": false, "zero": false},
              "axis": {"orient": "right", "values": [-100, -50, 0, 50, 100], "tickSize": 10, "labels": false, "title": null}},
            "text": {"value": "gyro interpolation"}
          }
        },
        {
          "data": {"values": [{}]},
          "mark": {"type": "text", "align": "right", "baseline": "middle", "fontSize": 15, "font": "DejaVu Sans", "color": "#000000"},
          "encoding": {
            "x": {"datum": 88, "type": "quantitative", "scale": {"domain": [-100, 100], "nice": false, "zero": false},
              "axis": {"orient": "top", "values": [-90, -80, -70, -60, -40, -30, -20, -10, 10, 20, 30, 40, 60, 70, 80, 90], "tickSize": 4, "labels": false, "domain": false, "title": null}},
            "y": {"datum": -84, "type": "quantitative", "scale": {"domain": [-100, 100], "nice": false, "zero": false},
              "axis": {"orient": "right", "values": [-90, -80, -70, -60, -40, -30, -20, -10, 10, 20, 30, 40, 60, 70, 80, 90], "tickSize": 5, "labels": false, "domain": false, "title": null}},
            "text": {"value": "GRS1915"}
          }
        }
      ],
      "resolve": {"axis": {"x": "independent", "y": "independent"}}
    },
    {
      "width": 488,
      "height": 434,
      "layer": [
        {
          "data": {"name": "grs"},
          "mark": {"type": "line", "interpolate": "step-after", "strokeWidth": 1.3},
          "encoding": {
            "x": {"field": "sep", "type": "quantitative", "scale": {"type": "log", "domain": [1, 100], "nice": false},
              "axis": {"orient": "bottom", "values": [1, 10, 100], "format": "d", "tickSize": -8, "labelPadding": 18, "labelFlush": false, "labelOverlap": false, "title": "separation (arcmin)", "titleY": 39, "titleBaseline": "middle"}},
            "y": {"field": "cum", "type": "quantitative", "scale": {"domain": [0, 100], "nice": false, "zero": false},
              "axis": {"orient": "left", "values": [0, 20, 40, 60, 80, 100], "tickSize": -10, "labelPadding": 15, "labelFlush": false, "labelOverlap": false, "title": "cumulative (%)", "titleX": -54, "titleBaseline": "middle"}},
            "color": {"field": "series", "type": "nominal", "scale": {"domain": ["20 sec", "40 sec", ">50 sec"], "range": ["#000000", "#ff0000", "#1f60ff"]},
              "legend": {"orient": "none", "legendX": 370.35, "legendY": 355.35, "title": null, "padding": 0, "symbolType": "M-10,0H10", "symbolSize": 256, "symbolStrokeWidth": 1.3, "labelOffset": -100.65, "labelAlign": "right", "labelBaseline": "middle", "labelFontSize": 15, "labelFont": "DejaVu Sans", "rowPadding": 1.6,
                "encode": {"labels": {"update": {"fill": [{"test": "datum.value === '40 sec'", "value": "#ff0000"}, {"test": "datum.value === '>50 sec'", "value": "#1f60ff"}, {"value": "#000000"}]}}}}},
            "strokeDash": {"field": "series", "type": "nominal", "scale": {"domain": ["20 sec", "40 sec", ">50 sec"], "range": [[1, 0], [12, 4, 2, 4], [14, 8]]},
              "legend": {"orient": "none", "legendX": 370.35, "legendY": 355.35, "title": null, "padding": 0, "symbolType": "M-10,0H10", "symbolSize": 256, "symbolStrokeWidth": 1.3, "labelOffset": -100.65, "labelAlign": "right", "labelBaseline": "middle", "labelFontSize": 15, "labelFont": "DejaVu Sans", "rowPadding": 1.6,
                "encode": {"labels": {"update": {"fill": [{"test": "datum.value === '40 sec'", "value": "#ff0000"}, {"test": "datum.value === '>50 sec'", "value": "#1f60ff"}, {"value": "#000000"}]}}}}}
          }
        },
        {
          "data": {"values": [{}]},
          "mark": {"type": "text", "align": "left", "baseline": "middle", "fontSize": 15, "font": "DejaVu Sans", "color": "#000000"},
          "encoding": {
            "x": {"datum": 1.328, "type": "quantitative", "scale": {"type": "log", "domain": [1, 100], "nice": false},
              "axis": {"orient": "bottom", "values": [2, 3, 4, 5, 6, 7, 8, 9, 20, 30, 40, 50, 60, 70, 80, 90], "tickSize": -4, "labels": false, "domain": false, "title": null}},
            "y": {"datum": 92.6, "type": "quantitative", "scale": {"domain": [0, 100], "nice": false, "zero": false},
              "axis": {"orient": "left", "values": [5, 10, 15, 25, 30, 35, 45, 50, 55, 65, 70, 75, 85, 90, 95], "tickSize": -5, "labels": false, "domain": false, "title": null}},
            "text": {"value": "GRS1915"}
          }
        },
        {
          "data": {"values": [{}]},
          "mark": {"type": "text", "fontSize": 15},
          "encoding": {
            "x": {"datum": 1, "type": "quantitative", "scale": {"type": "log", "domain": [1, 100], "nice": false},
              "axis": {"orient": "top", "values": [1, 10, 100], "tickSize": -8, "labels": false, "title": null}},
            "y": {"datum": 0, "type": "quantitative", "scale": {"domain": [0, 100], "nice": false, "zero": false},
              "axis": {"orient": "right", "values": [0, 20, 40, 60, 80, 100], "tickSize": -10, "labels": false, "title": null}},
            "text": {"value": ""}
          }
        },
        {
          "data": {"values": [{}]},
          "mark": {"type": "text", "fontSize": 15},
          "encoding": {
            "x": {"datum": 1, "type": "quantitative", "scale": {"type": "log", "domain": [1, 100], "nice": false},
              "axis": {"orient": "top", "values": [2, 3, 4, 5, 6, 7, 8, 9, 20, 30, 40, 50, 60, 70, 80, 90], "tickSize": -4, "labels": false, "domain": false, "title": null}},
            "y": {"datum": 0, "type": "quantitative", "scale": {"domain": [0, 100], "nice": false, "zero": false},
              "axis": {"orient": "right", "values": [5, 10, 15, 25, 30, 35, 45, 50, 55, 65, 70, 75, 85, 90, 95], "tickSize": -5, "labels": false, "domain": false, "title": null}},
            "text": {"value": ""}
          }
        }
      ],
      "resolve": {"axis": {"x": "independent", "y": "independent"}}
    },
    {
      "width": 488,
      "height": 434,
      "layer": [
        {
          "data": {"name": "swj"},
          "mark": {"type": "line", "interpolate": "step-after", "strokeWidth": 1.3},
          "encoding": {
            "x": {"field": "sep", "type": "quantitative", "scale": {"type": "log", "domain": [1, 100], "nice": false},
              "axis": {"orient": "bottom", "values": [1, 10, 100], "format": "d", "tickSize": -8, "labelPadding": 18, "labelFlush": false, "labelOverlap": false, "title": "separation (arcmin)", "titleY": 37, "titleBaseline": "middle"}},
            "y": {"field": "cum", "type": "quantitative", "scale": {"domain": [0, 100], "nice": false, "zero": false},
              "axis": {"orient": "left", "values": [0, 20, 40, 60, 80, 100], "tickSize": -10, "labelPadding": 15, "labelFlush": false, "labelOverlap": false, "title": "cumulative (%)", "titleX": -54, "titleBaseline": "middle"}},
            "color": {"field": "series", "type": "nominal", "scale": {"domain": ["20 sec", "40 sec", ">50 sec"], "range": ["#000000", "#ff0000", "#1f60ff"]},
              "legend": {"orient": "none", "legendX": 370.35, "legendY": 355.35, "title": null, "padding": 0, "symbolType": "M-10,0H10", "symbolSize": 256, "symbolStrokeWidth": 1.3, "labelOffset": -100.65, "labelAlign": "right", "labelBaseline": "middle", "labelFontSize": 15, "labelFont": "DejaVu Sans", "rowPadding": 1.6,
                "encode": {"labels": {"update": {"fill": [{"test": "datum.value === '40 sec'", "value": "#ff0000"}, {"test": "datum.value === '>50 sec'", "value": "#1f60ff"}, {"value": "#000000"}]}}}}},
            "strokeDash": {"field": "series", "type": "nominal", "scale": {"domain": ["20 sec", "40 sec", ">50 sec"], "range": [[1, 0], [12, 4, 2, 4], [14, 8]]},
              "legend": {"orient": "none", "legendX": 370.35, "legendY": 355.35, "title": null, "padding": 0, "symbolType": "M-10,0H10", "symbolSize": 256, "symbolStrokeWidth": 1.3, "labelOffset": -100.65, "labelAlign": "right", "labelBaseline": "middle", "labelFontSize": 15, "labelFont": "DejaVu Sans", "rowPadding": 1.6,
                "encode": {"labels": {"update": {"fill": [{"test": "datum.value === '40 sec'", "value": "#ff0000"}, {"test": "datum.value === '>50 sec'", "value": "#1f60ff"}, {"value": "#000000"}]}}}}}
          }
        },
        {
          "data": {"values": [{}]},
          "mark": {"type": "text", "align": "left", "baseline": "middle", "fontSize": 15, "font": "DejaVu Sans", "color": "#000000"},
          "encoding": {
            "x": {"datum": 1.328, "type": "quantitative", "scale": {"type": "log", "domain": [1, 100], "nice": false},
              "axis": {"orient": "bottom", "values": [2, 3, 4, 5, 6, 7, 8, 9, 20, 30, 40, 50, 60, 70, 80, 90], "tickSize": -4, "labels": false, "domain": false, "title": null}},
            "y": {"datum": 92.8, "type": "quantitative", "scale": {"domain": [0, 100], "nice": false, "zero": false},
              "axis": {"orient": "left", "values": [5, 10, 15, 25, 30, 35, 45, 50, 55, 65, 70, 75, 85, 90, 95], "tickSize": -5, "labels": false, "domain": false, "title": null}},
            "text": {"value": "SwJ1745"}
          }
        },
        {
          "data": {"values": [{}]},
          "mark": {"type": "text", "fontSize": 15},
          "encoding": {
            "x": {"datum": 1, "type": "quantitative", "scale": {"type": "log", "domain": [1, 100], "nice": false},
              "axis": {"orient": "top", "values": [1, 10, 100], "tickSize": -8, "labels": false, "title": null}},
            "y": {"datum": 0, "type": "quantitative", "scale": {"domain": [0, 100], "nice": false, "zero": false},
              "axis": {"orient": "right", "values": [0, 20, 40, 60, 80, 100], "tickSize": -10, "labels": false, "title": null}},
            "text": {"value": ""}
          }
        },
        {
          "data": {"values": [{}]},
          "mark": {"type": "text", "fontSize": 15},
          "encoding": {
            "x": {"datum": 1, "type": "quantitative", "scale": {"type": "log", "domain": [1, 100], "nice": false},
              "axis": {"orient": "top", "values": [2, 3, 4, 5, 6, 7, 8, 9, 20, 30, 40, 50, 60, 70, 80, 90], "tickSize": -4, "labels": false, "domain": false, "title": null}},
            "y": {"datum": 0, "type": "quantitative", "scale": {"domain": [0, 100], "nice": false, "zero": false},
              "axis": {"orient": "right", "values": [5, 10, 15, 25, 30, 35, 45, 50, 55, 65, 70, 75, 85, 90, 95], "tickSize": -5, "labels": false, "domain": false, "title": null}},
            "text": {"value": ""}
          }
        }
      ],
      "resolve": {"axis": {"x": "independent", "y": "independent"}}
    }
  ],
  "config": {
    "view": {"stroke": null},
    "font": "DejaVu Sans",
    "axis": {"labelFont": "DejaVu Sans", "labelFontSize": 14, "labelColor": "#000000", "titleFont": "DejaVu Sans", "titleFontSize": 15, "titleFontWeight": "normal", "titleColor": "#000000", "domainColor": "#000000", "tickColor": "#000000", "domainWidth": 1.2, "tickWidth": 1.2, "grid": false}
  }
}
